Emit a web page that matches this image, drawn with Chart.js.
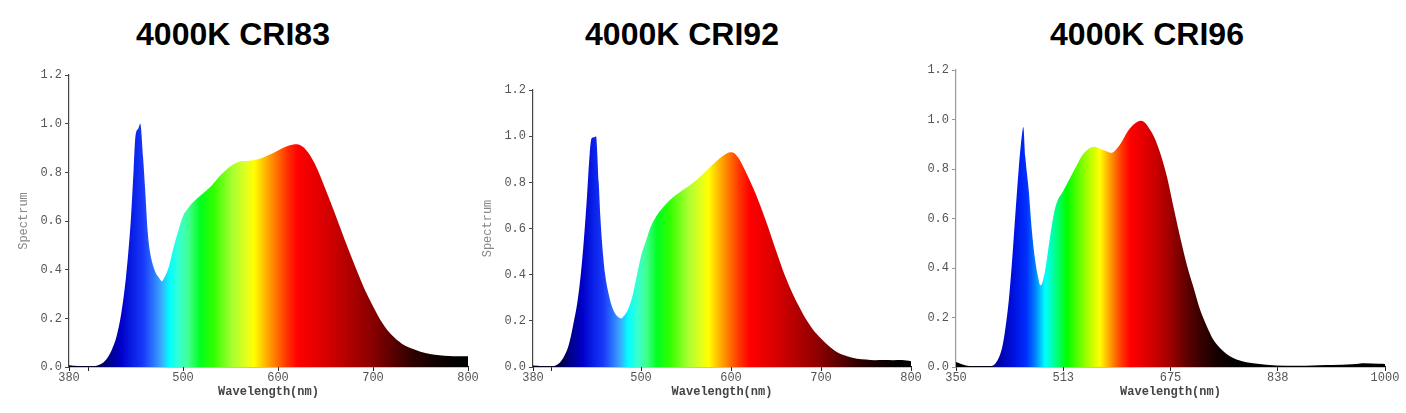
<!DOCTYPE html>
<html>
<head>
<meta charset="utf-8">
<script src="https://cdn.jsdelivr.net/npm/chart.js@4.4.1/dist/chart.umd.min.js"></script>
<style>
  html, body { margin: 0; padding: 0; background: #fff; }
  body { width: 1406px; height: 413px; position: relative; overflow: hidden; }
  .title {
    position: absolute; top: 18px; width: 400px; text-align: center;
    font: bold 32px "Liberation Sans", Arial, sans-serif; line-height: 32px; color: #000;
  }
  .box { position: absolute; }
</style>
</head>
<body>
<div class="title" style="left:33px">4000K CRI83</div>
<div class="title" style="left:482px">4000K CRI92</div>
<div class="title" style="left:947px">4000K CRI96</div>

<div class="box" style="left:0px;top:60px;width:480px;height:345px"><canvas id="c1"></canvas></div>
<div class="box" style="left:464px;top:60px;width:459px;height:345px"><canvas id="c2"></canvas></div>
<div class="box" style="left:900px;top:55px;width:506px;height:350px"><canvas id="c3"></canvas></div>

<script>
// --- データ ---
const titles = ["4000K CRI83", "4000K CRI92", "4000K CRI96"];

const wl83 = [380, 390, 400, 410, 415, 420, 425, 430, 435, 440, 445, 448, 450, 453, 455, 458, 460, 463, 465, 470, 475, 478, 480, 485, 490, 495, 500, 505, 510, 520, 530, 540, 550, 560, 570, 580, 590, 600, 610, 620, 630, 640, 650, 660, 670, 680, 690, 700, 710, 720, 730, 740, 750, 760, 770, 780, 790, 800];
const cri83 = [0.007, 0.004, 0.002, 0.006, 0.015, 0.035, 0.07, 0.125, 0.22, 0.37, 0.60, 0.81, 0.95, 0.98, 1.0, 0.86, 0.74, 0.55, 0.48, 0.40, 0.365, 0.352, 0.365, 0.41, 0.49, 0.56, 0.62, 0.65, 0.675, 0.71, 0.745, 0.79, 0.825, 0.845, 0.848, 0.855, 0.87, 0.89, 0.908, 0.915, 0.89, 0.825, 0.73, 0.63, 0.525, 0.425, 0.33, 0.25, 0.18, 0.13, 0.097, 0.077, 0.063, 0.053, 0.048, 0.045, 0.044, 0.044];

const wl92 = [380, 390, 400, 405, 410, 415, 420, 425, 430, 435, 440, 443, 445, 448, 450, 453, 455, 458, 460, 465, 470, 475, 478, 480, 485, 490, 495, 500, 505, 510, 515, 520, 530, 540, 550, 560, 570, 580, 590, 600, 605, 610, 620, 630, 640, 650, 660, 670, 680, 690, 700, 710, 720, 730, 740, 750, 760, 770, 780, 790, 800];
const cri92 = [0.006, 0.003, 0.001, 0.007, 0.02, 0.05, 0.10, 0.19, 0.30, 0.48, 0.74, 0.925, 0.99, 0.995, 1.0, 0.80, 0.64, 0.48, 0.405, 0.30, 0.24, 0.215, 0.21, 0.217, 0.245, 0.30, 0.39, 0.48, 0.54, 0.60, 0.64, 0.67, 0.715, 0.748, 0.775, 0.805, 0.84, 0.878, 0.912, 0.93, 0.922, 0.895, 0.815, 0.725, 0.62, 0.505, 0.395, 0.305, 0.23, 0.168, 0.123, 0.087, 0.06, 0.046, 0.036, 0.032, 0.029, 0.03, 0.029, 0.03, 0.025];

const wl96 = [350, 360, 370, 380, 400, 405, 410, 420, 425, 430, 435, 440, 445, 450, 452, 455, 460, 465, 470, 475, 478, 480, 485, 490, 495, 500, 505, 510, 520, 530, 540, 550, 560, 570, 580, 585, 590, 600, 610, 620, 625, 630, 635, 640, 650, 660, 670, 680, 690, 700, 710, 720, 730, 740, 750, 760, 770, 780, 790, 800, 820, 850, 880, 900, 920, 950, 970, 990, 1000];
const cri96 = [0.02, 0.01, 0.004, 0.003, 0.003, 0.005, 0.015, 0.08, 0.16, 0.27, 0.43, 0.62, 0.80, 0.94, 0.97, 0.85, 0.72, 0.55, 0.43, 0.355, 0.33, 0.335, 0.39, 0.48, 0.57, 0.64, 0.68, 0.70, 0.75, 0.80, 0.85, 0.88, 0.89, 0.88, 0.87, 0.865, 0.872, 0.905, 0.952, 0.982, 0.991, 0.995, 0.99, 0.975, 0.93, 0.86, 0.765, 0.64, 0.52, 0.41, 0.32, 0.23, 0.165, 0.11, 0.077, 0.053, 0.036, 0.026, 0.019, 0.015, 0.009, 0.005, 0.005, 0.007, 0.008, 0.011, 0.015, 0.013, 0.012];

// 目盛り
const xTicks83 = [380, 400, 500, 600, 700, 800];
const xTicks92 = [380, 400, 500, 600, 700, 800];
const xTicks96 = [350, 512.5, 675, 837.5, 1000];
const xLabeled = [380, 500, 600, 700, 800, 350, 512.5, 675, 837.5, 1000];

// スペクトル色（塗りのグラデーション）
const spectrumA = [
  [380, "#000010"], [410, "#000040"], [422, "#00008a"], [435, "#0000c8"], [448, "#0a22ea"],
  [458, "#1838f8"], [468, "#2a70ff"], [477, "#3aa8ff"], [486, "#00ffff"], [496, "#38ffd0"],
  [506, "#40ff90"], [518, "#00ff20"], [532, "#30ff00"], [552, "#a8ff30"], [566, "#e0ff20"],
  [575, "#ffff00"], [585, "#ffc000"], [597, "#ff7a00"], [610, "#ff3000"], [621, "#ff0000"],
  [640, "#e60000"], [660, "#c80000"], [680, "#a80000"], [700, "#880000"], [720, "#5c0000"],
  [740, "#320000"], [760, "#160000"], [780, "#060000"], [800, "#000000"]
];
const spectrumB = [
  [350, "#000000"], [400, "#000010"], [412, "#0000a0"], [437, "#0010e0"], [457, "#0030ff"],
  [470, "#0080ff"], [485, "#00ffff"], [498, "#00ffa0"], [518, "#00ff00"], [548, "#a0ff00"],
  [568, "#ffff00"], [583, "#ffa000"], [599, "#ff4000"], [614, "#ff0000"], [649, "#d00000"],
  [674, "#a00000"], [699, "#600000"], [725, "#300000"], [750, "#100000"], [775, "#000000"],
  [1000, "#000000"]
];

const MONO = '"Liberation Mono", "Courier New", monospace';

function spectrumFill(stops, xmin, xmax) {
  return (ctx) => {
    const chart = ctx.chart;
    const area = chart.chartArea;
    if (!area) return "#888";
    const xs = chart.scales.x;
    const g = chart.ctx.createLinearGradient(xs.left, 0, xs.right, 0);
    for (const [w, c] of stops) {
      g.addColorStop(Math.min(1, Math.max(0, (w - xmin) / (xmax - xmin))), c);
    }
    return g;
  };
}

function makeChart(id, wl, vals, opt) {
  const ctx = document.getElementById(id).getContext("2d");
  return new Chart(ctx, {
    type: "line",
    data: {
      datasets: [{
        data: wl.map((w, i) => ({ x: w, y: vals[i] })),
        backgroundColor: spectrumFill(opt.stops, opt.xmin, opt.xmax),
        borderWidth: 0,
        pointRadius: 0,
        fill: "origin",
        cubicInterpolationMode: "monotone"
      }]
    },
    options: {
      responsive: true,
      maintainAspectRatio: false,
      animation: false,
      layout: { padding: opt.padding },
      plugins: { legend: { display: false }, tooltip: { enabled: false } },
      scales: {
        x: {
          type: "linear",
          min: opt.xmin,
          max: opt.xmax,
          afterBuildTicks: (s) => { s.ticks = opt.xTicks.map(v => ({ value: v })); },
          afterFit: (s) => { s.height = 38; },
          ticks: {
            autoSkip: false,
            maxRotation: 0,
            padding: 0,
            color: "#555",
            font: { family: MONO, size: 12 },
            callback: (v) => xLabeled.includes(v) ? String(Math.round(v)) : ""
          },
          grid: { drawOnChartArea: false, drawTicks: true, tickLength: 4, color: "#222" },
          border: { color: "#111", width: 1.2 },
          title: {
            display: true,
            text: "Wavelength(nm)",
            color: "#444",
            font: { family: MONO, size: 12, weight: "bold" },
            padding: { top: 0, bottom: 6 }
          }
        },
        y: {
          min: 0,
          max: 1.2,
          afterFit: (s) => { s.width = opt.yWidth; },
          ticks: {
            stepSize: 0.2,
            padding: 3,
            color: "#555",
            font: { family: MONO, size: 12 },
            callback: (v) => Number(v).toFixed(1)
          },
          grid: { drawOnChartArea: false, drawTicks: true, tickLength: 4, color: opt.axisColor },
          border: { color: opt.axisColor, width: 1.2 },
          title: {
            display: opt.yTitle,
            text: "Spectrum",
            color: "#888",
            font: { family: MONO, size: 12 },
            padding: { top: 17, bottom: 0 }
          }
        }
      }
    }
  });
}

makeChart("c1", wl83, cri83, {
  stops: spectrumA, xmin: 380, xmax: 800, xTicks: xTicks83,
  padding: { left: 0, top: 15, right: 12, bottom: 0 }, yWidth: 69, yTitle: true, axisColor: "#444"
});
makeChart("c2", wl92, cri92, {
  stops: spectrumA, xmin: 380, xmax: 800, xTicks: xTicks92,
  padding: { left: 0, top: 30, right: 12, bottom: 0 }, yWidth: 69, yTitle: true, axisColor: "#444"
});
makeChart("c3", wl96, cri96, {
  stops: spectrumB, xmin: 350, xmax: 1000, xTicks: xTicks96,
  padding: { left: 0, top: 15, right: 21, bottom: 0 }, yWidth: 56, yTitle: false, axisColor: "#999"
});
</script>
</body>
</html>
